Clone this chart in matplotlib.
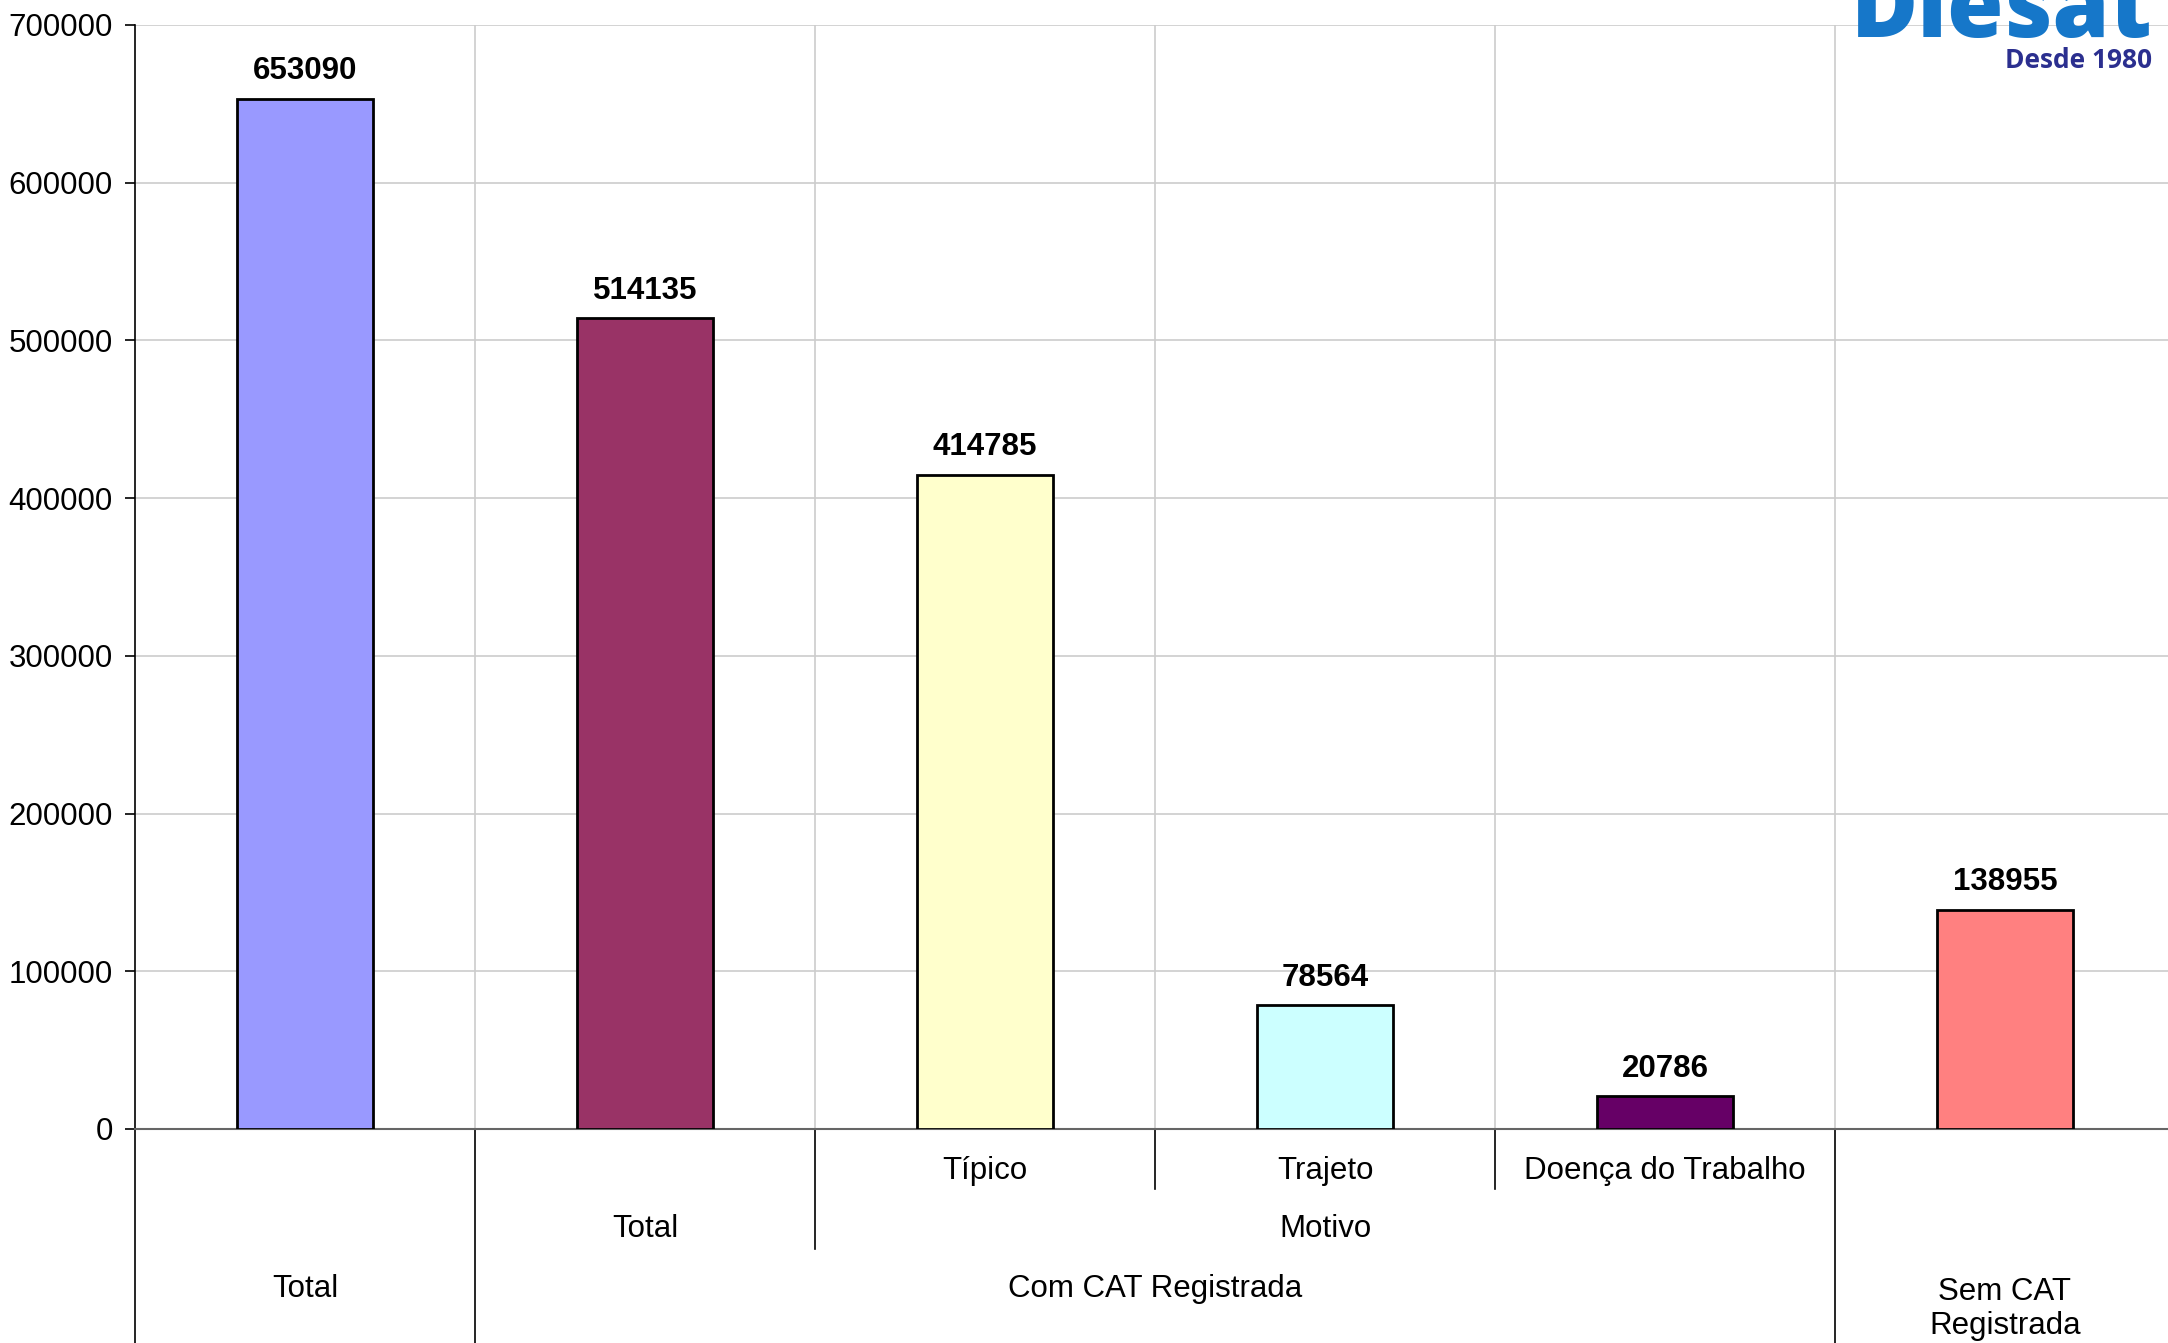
import matplotlib.pyplot as plt

plt.rcParams['font.family'] = ['Liberation Sans', 'DejaVu Sans']

# dados
valores = [653090, 514135, 414785, 78564, 20786, 138955]
cores = ['#9999FF', '#993366', '#FFFFCC', '#CCFFFF', '#660066', '#FF8080']
nivel1 = ['', '', 'Típico', 'Trajeto', 'Doença do Trabalho', '']
nivel2 = [(1, 'Total'), (3, 'Motivo')]
nivel3 = [(0, 'Total'), (2.5, 'Com CAT Registrada'), (5, 'Sem CAT\nRegistrada')]
yticks = [0, 100000, 200000, 300000, 400000, 500000, 600000, 700000]

W, H = 2168, 1343
fig = plt.figure(figsize=(W / 100, H / 100), dpi=100)
ax = fig.add_axes([135 / W, 1 - 1129 / H, 2040 / W, 1104 / H])

x = list(range(len(valores)))
ax.bar(x, valores, width=0.4, color=cores, edgecolor='black', linewidth=2, zorder=3)
for xi, v in zip(x, valores):
    ax.annotate(str(v), (xi, v), xytext=(0, 9), textcoords='offset points',
                ha='center', va='bottom', fontsize=22.5, fontweight='bold')

ax.set_xlim(-0.5, 5.5)
ax.set_ylim(0, 700000)
ax.set_yticks(yticks)
ax.set_yticklabels([str(t) for t in yticks], fontsize=22.5)
ax.set_xticks([])
ax.yaxis.grid(True, color='#cccccc', linewidth=1.2)
for b in [0.5, 1.5, 2.5, 3.5, 4.5]:
    ax.axvline(b, color='#cccccc', linewidth=1.2, zorder=0)
ax.set_axisbelow(True)
for s in ['top', 'right']:
    ax.spines[s].set_visible(False)
ax.spines['left'].set_linewidth(1.2)
ax.spines['bottom'].set_color('#666666')
ax.spines['bottom'].set_linewidth(1.5)
ax.tick_params(axis='y', length=7, width=1.2, pad=9)

# linhas das categorias abaixo do eixo
tr = ax.get_xaxis_transform()
fundo = -0.196
for bx, y0 in [(-0.5, fundo), (0.5, fundo), (1.5, -0.1087), (2.5, -0.0543),
               (3.5, -0.0543), (4.5, fundo), (5.5, fundo)]:
    ax.plot([bx, bx], [0, y0], color='black', linewidth=1.2, transform=tr, clip_on=False)

for xi, t in zip(x, nivel1):
    if t:
        ax.text(xi, -0.038, t, transform=tr, ha='center', va='center', fontsize=22.5)
for xi, t in nivel2:
    ax.text(xi, -0.0906, t, transform=tr, ha='center', va='center', fontsize=22.5)
for xi, t in nivel3:
    yy = -0.163 if '\n' in t else -0.145
    ax.text(xi, yy, t, transform=tr, ha='center', va='center', fontsize=22.5, linespacing=1.2)

# logo
fig.text(2152 / W, 1 - 37 / H, 'Diesat', ha='right', va='baseline', fontsize=66,
         fontweight='heavy', color='#1677C9', family=['Open Sans', 'DejaVu Sans'])
fig.text(2152 / W, 1 - 68 / H, 'Desde 1980', ha='right', va='baseline', fontsize=19,
         fontweight='bold', color='#2B2F8F', family=['Open Sans', 'DejaVu Sans'])

fig.savefig('out.png', dpi=100)
